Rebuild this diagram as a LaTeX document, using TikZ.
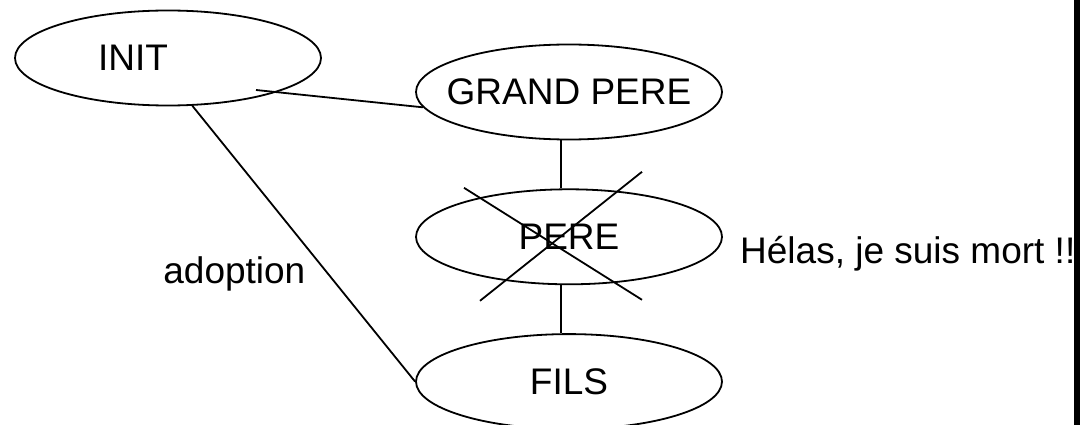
\documentclass[tikz,border=0pt]{standalone}
\usepackage{fontspec}
\setmainfont{Liberation Sans}
\usetikzlibrary{shapes.geometric,positioning,calc}

\begin{document}
\begin{tikzpicture}[
  x=1pt, y=-1pt,
  ent/.style={draw, ellipse, line width=1.8pt, minimum width=306pt, minimum height=95pt, inner ysep=0pt, inner xsep=-40pt},
  ln/.style={line width=1.8pt},
  every node/.style={font=\fontsize{37}{44}\selectfont}
]
\useasboundingbox (0,0) rectangle (1080,425);

\node[ent, label={[xshift=-35pt]center:INIT}] (init) at (168,58) {};
\node[ent] (gp) at (569,92) {GRAND PERE};
\node[ent, below=48pt of gp] (pere) {PERE};
\node[ent, below=48pt of pere] (fils) {FILS};
\node[anchor=base west, inner sep=0pt] (mort) at (740,263) {Hélas, je suis mort !!};

\coordinate (initin) at (256,90);
\draw[ln] (initin) -- (gp.186);
\draw[ln] (gp.261) -- (pere.99);
\draw[ln] (pere.261) -- (fils.99);
\draw[ln] (init.297) -- node[pos=0.61, left=22pt, inner sep=0pt] (adopt) {adoption} (fils.west);

% croix sur le pere
\draw[ln] ($(pere)+(-105,-49)$) -- ($(pere)+(73,63)$);
\draw[ln] ($(pere)+(73,-65)$) -- ($(pere)+(-89,64)$);

\fill (1074,0) rectangle (1080,425);
\end{tikzpicture}
\end{document}
